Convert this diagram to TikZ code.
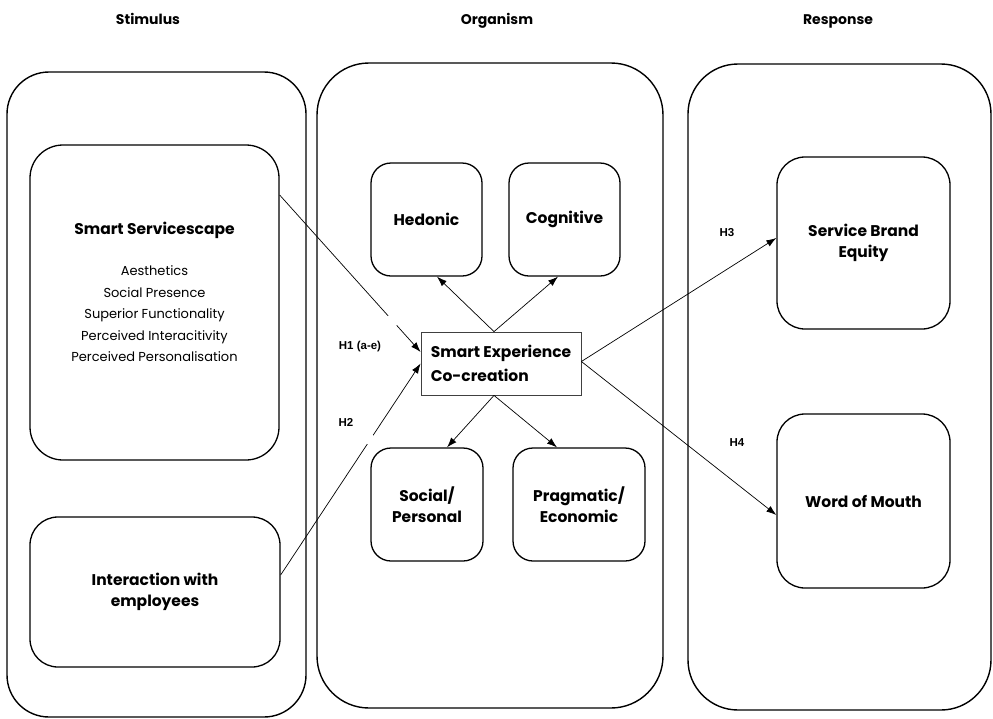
\documentclass[tikz,border=0pt]{standalone}
\usepackage{fontspec}
\setmainfont{Poppins}[BoldFont={Poppins Bold}]
\newfontfamily\hfont{Liberation Sans}
\usetikzlibrary{arrows.meta,calc}
\begin{document}
\begin{tikzpicture}[x=1pt,y=-1pt,
  outerbox/.style={draw,line width=1.4pt,rounded corners=#1,inner sep=0pt},
  innerbox/.style={draw,line width=1.3pt,rounded corners=#1,inner sep=0pt,align=center,
    font=\fontsize{15.5}{20.5}\selectfont\bfseries},
  centerbox/.style={draw=black!75,line width=0.8pt,inner sep=0pt,align=left,
    font=\fontsize{15.5}{24}\selectfont\bfseries},
  titletext/.style={font=\fontsize{14}{16}\selectfont\bfseries,anchor=base},
  hlabel/.style={font=\hfont\fontsize{11.5}{13}\selectfont\bfseries},
  conn/.style={line width=0.7pt,-{Latex[length=10pt,width=7pt]}},
  gapline/.style={white,line width=2.5pt}]
\useasboundingbox[fill=white] (0,0) rectangle (993,718);

% titles
\node[titletext] (tS) at (148,24) {Stimulus};
\node[titletext] (tO) at (497,24) {Organism};
\node[titletext] (tR) at (838,24) {Response};

% outer panels
\node[outerbox=42pt,minimum width=299pt,minimum height=645pt] (stim) at (156.5,394.5) {};
\node[outerbox=52pt,minimum width=346pt,minimum height=645pt] (org) at (490,385.5) {};
\node[outerbox=50pt,minimum width=303pt,minimum height=646pt] (resp) at (839.5,387) {};

% stimulus boxes
\node[innerbox=33pt,minimum width=249pt,minimum height=315pt] (ss) at (154.5,302.5) {};
\node[text width=240pt,align=center,inner sep=0pt] (sstext) at (154.5,292) {%
  \fontsize{15.5}{20}\selectfont\bfseries Smart Servicescape\\[20pt]
  \fontsize{13}{21.5}\selectfont\mdseries Aesthetics\\ Social Presence\\ Superior Functionality\\
   Perceived Interacitivity\\ Perceived Personalisation\par};
\node[innerbox=28pt,minimum width=250pt,minimum height=150pt] (inter) at (155,592)
  {Interaction with\\employees};

% organism boxes
\node[innerbox=20pt,minimum width=111pt,minimum height=113pt] (hed) at (426.5,219.5) {Hedonic};
\node[innerbox=20pt,minimum width=111pt,minimum height=113pt] (cog) at (564.5,219.5) {Cognitive};
\node[centerbox,minimum width=160pt,minimum height=63pt] (sec) at (501,363.5)
  {Smart Experience\\Co-creation};
\node[innerbox=20pt,minimum width=112pt,minimum height=113pt] (soc) at (427,504.5) {Social/\\Personal};
\node[innerbox=20pt,minimum width=132pt,minimum height=113pt] (prag) at (579,504.5) {Pragmatic/\\Economic};

% response boxes
\node[innerbox=28pt,minimum width=173pt,minimum height=172pt] (sbe) at (863.5,243) {Service Brand\\Equity};
\node[innerbox=28pt,minimum width=173pt,minimum height=174pt] (wom) at (863.5,501) {Word of Mouth};

% hypothesis labels
\node[hlabel] (h1) at (360,347) {H1 (a-e)};
\node[hlabel] (h2) at (346,422) {H2};
\node[hlabel] (h3) at (727,233) {H3};
\node[hlabel] (h4) at (737,443) {H4};

% connector end points
\coordinate (ssout) at ($(ss.east)+(0,-107.5)$);
\coordinate (h1in) at ($(sec.west)+(0,-11.5)$);
\coordinate (interout) at ($(inter.east)+(0,-17)$);
\coordinate (secN) at ($(sec.north)+(-7,0)$);
\coordinate (secS) at ($(sec.south)+(-7,0)$);

\draw[conn] (ssout) -- (h1in);
\draw[gapline] ($(ssout)!0.77!(h1in)$) -- ($(ssout)!0.83!(h1in)$);
\draw[conn] (interout) -- (sec.west);
\draw[gapline] ($(interout)!0.62!(sec.west)$) -- ($(interout)!0.66!(sec.west)$);

\draw[conn] (secN) -- ($(hed.south)+(10.5,0)$);
\draw[conn] (secN) -- ($(cog.south)+(-6.5,0)$);
\draw[conn] (secS) -- ($(soc.north)+(20,0)$);
\draw[conn] (secS) -- ($(prag.north)+(-22,0)$);
\draw[conn] ($(sec.east)+(0,-2)$) -- ($(sbe.west)+(0,-5)$);
\draw[conn] ($(sec.east)+(0,-2)$) -- ($(wom.west)+(0,14)$);
\end{tikzpicture}
\end{document}
